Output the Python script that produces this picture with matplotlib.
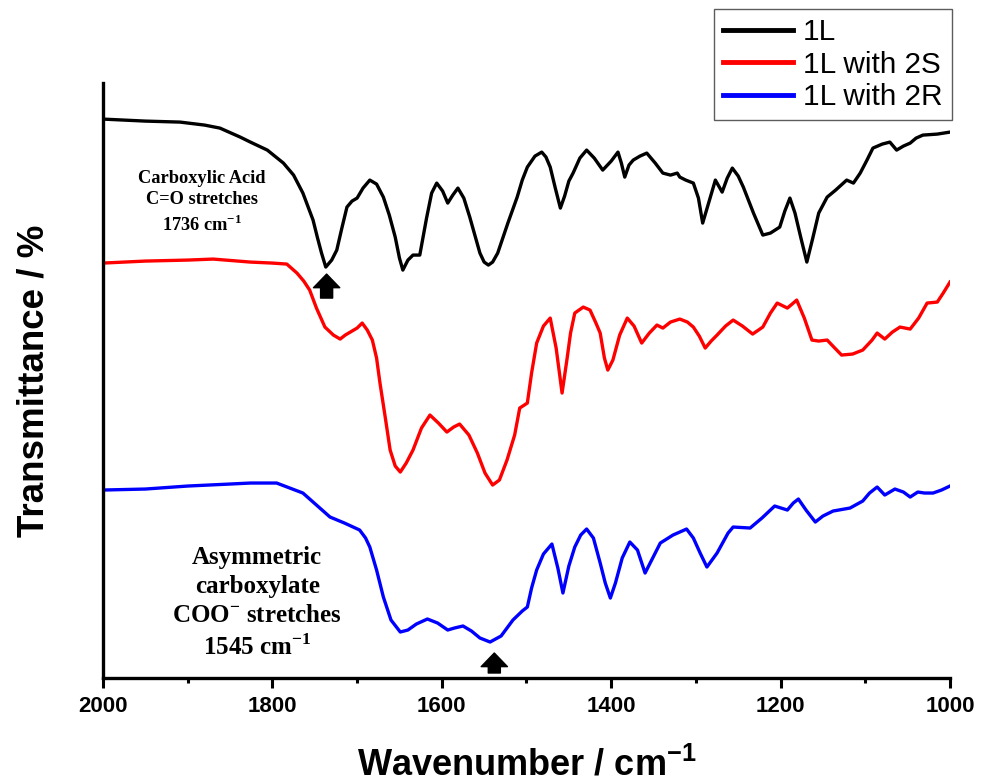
import numpy as np
import matplotlib
matplotlib.use('Agg')
import matplotlib.pyplot as plt

# wavenumber (cm-1) and transmittance (arbitrary units, stacked)
wn_1L = [2000, 1950, 1909, 1880, 1862, 1838, 1826, 1806, 1787, 1775, 1764, 1752, 1747, 1742,
         1737, 1730, 1724, 1718, 1712, 1706, 1700, 1693, 1685, 1677, 1669, 1662, 1655, 1650,
         1646, 1640, 1634, 1626, 1618, 1612, 1606, 1599, 1593, 1587, 1581, 1574, 1567, 1560,
         1555, 1550, 1545, 1540, 1534, 1522, 1511, 1505, 1499, 1490, 1482, 1477, 1472, 1466,
         1460, 1455, 1450, 1445, 1437, 1429, 1420, 1410, 1400, 1392, 1388, 1384, 1379, 1374,
         1366, 1358, 1348, 1339, 1330, 1322, 1319, 1312, 1303, 1297, 1292, 1285, 1277, 1269,
         1263, 1257, 1250, 1244, 1232, 1221, 1212, 1201, 1195, 1189, 1183, 1176, 1169, 1162,
         1155, 1145, 1135, 1122, 1114, 1106, 1098, 1091, 1080, 1071, 1063, 1055, 1047, 1040,
         1032, 1015, 1000]
t_1L = [559, 557, 556, 553, 550, 541, 536, 528, 515, 503, 485, 458, 441, 425,
        411, 418, 428, 450, 471, 477, 480, 490, 498, 494, 481, 463, 441, 420,
        408, 418, 423, 423, 460, 485, 495, 487, 475, 483, 490, 480, 461, 440,
        425, 416, 413, 416, 425, 455, 481, 498, 511, 522, 526, 521, 511, 490,
        470, 482, 497, 505, 520, 528, 520, 508, 517, 526, 515, 501, 513, 518,
        522, 525, 515, 505, 503, 505, 501, 498, 495, 480, 455, 475, 498, 486,
        500, 510, 502, 491, 465, 443, 445, 451, 467, 480, 465, 440, 416, 440,
        465, 481, 488, 498, 495, 505, 518, 530, 534, 536, 528, 532, 535, 540,
        543, 544, 546]

wn_2S = [2000, 1950, 1900, 1870, 1826, 1800, 1783, 1771, 1763, 1756, 1748, 1738, 1728, 1720,
         1714, 1708, 1700, 1694, 1688, 1682, 1677, 1673, 1667, 1661, 1655, 1649, 1642, 1634,
         1624, 1614, 1604, 1594, 1586, 1579, 1568, 1558, 1549, 1540, 1532, 1523, 1514, 1508,
         1499, 1494, 1488, 1480, 1472, 1465, 1458, 1452, 1448, 1443, 1433, 1425, 1418, 1413,
         1408, 1404, 1398, 1390, 1381, 1373, 1364, 1355, 1346, 1339, 1330, 1319, 1310, 1303,
         1296, 1289, 1282, 1275, 1265, 1256, 1245, 1233, 1221, 1212, 1204, 1192, 1185, 1181,
         1172, 1163, 1155, 1145, 1136, 1128, 1115, 1103, 1092, 1086, 1077, 1068, 1059, 1047,
         1037, 1027, 1015, 1008, 1000]
t_2S = [415, 417, 418, 419, 416, 415, 414, 405, 397, 388, 370, 351, 343, 339,
        343, 346, 350, 355, 348, 338, 320, 295, 262, 228, 212, 206, 215, 228,
        250, 263, 255, 246, 251, 254, 243, 225, 205, 193, 198, 218, 243, 270,
        275, 305, 335, 352, 360, 330, 285, 320, 345, 365, 371, 368, 355, 345,
        320, 308, 318, 343, 360, 352, 335, 345, 353, 350, 356, 359, 356, 351,
        342, 330, 337, 343, 352, 358, 352, 344, 351, 365, 375, 370, 375, 378,
        360, 338, 337, 338, 330, 323, 324, 328, 338, 345, 339, 346, 351, 349,
        360, 375, 376, 385, 396]

wn_2R = [2000, 1950, 1900, 1850, 1826, 1795, 1764, 1748, 1732, 1715, 1697, 1690, 1685, 1677,
         1669, 1660, 1649, 1640, 1630, 1617, 1605, 1593, 1585, 1575, 1565, 1555, 1543, 1530,
         1516, 1505, 1499, 1494, 1488, 1480, 1470, 1463, 1457, 1450, 1443, 1436, 1429, 1421,
         1413, 1407, 1401, 1395, 1387, 1378, 1369, 1360, 1351, 1342, 1327, 1311, 1303, 1295,
         1287, 1275, 1262, 1256, 1236, 1222, 1207, 1192, 1185, 1179, 1170, 1159, 1150, 1138,
         1118, 1103, 1095, 1086, 1077, 1065, 1055, 1047, 1038, 1030, 1020, 1010, 1000]
t_2R = [188, 189, 192, 194, 195, 195, 185, 173, 161, 155, 148, 140, 131, 108,
        81, 58, 46, 48, 54, 59, 55, 48, 50, 52, 47, 40, 36, 42,
        58, 67, 71, 90, 108, 124, 134, 110, 85, 112, 131, 143, 149, 140,
        115, 95, 80, 95, 120, 136, 128, 105, 120, 135, 143, 149, 140, 125,
        111, 125, 145, 151, 150, 160, 172, 168, 175, 179, 168, 156, 162, 167,
        170, 177, 185, 191, 183, 189, 186, 181, 186, 185, 185, 188, 192]

plt.rcParams['font.family'] = ['Liberation Sans', 'DejaVu Sans']
plt.rcParams['mathtext.fontset'] = 'custom'
plt.rcParams['mathtext.rm'] = 'Liberation Sans'
plt.rcParams['mathtext.bf'] = 'Liberation Sans:bold'

fig = plt.figure(figsize=(9.82, 7.84), dpi=100)
ax = fig.add_axes([0.1049, 0.1352, 0.8625, 0.7588])

ax.plot(wn_1L, t_1L, color='black', lw=2.4, label='1L')
ax.plot(wn_2S, t_2S, color='#ff0000', lw=2.4, label='1L with 2S')
ax.plot(wn_2R, t_2R, color='#0000ff', lw=2.4, label='1L with 2R')

ax.set_xlim(2000, 1000)
ax.set_ylim(0, 595)
ax.set_xticks(np.arange(2000, 999, -200))
ax.set_xticks(np.arange(1900, 1000, -200), minor=True)
ax.set_yticks([])

for s in ['top', 'right']:
    ax.spines[s].set_visible(False)
for s in ['left', 'bottom']:
    ax.spines[s].set_linewidth(2.4)

ax.tick_params(axis='x', which='major', direction='out', length=7, width=2.2,
               labelsize=16, pad=6)
ax.tick_params(axis='x', which='minor', direction='out', length=3.5, width=2.2)
for lab in ax.get_xticklabels():
    lab.set_fontweight('bold')

ax.set_xlabel(r'Wavenumber / cm$^{\mathbf{-1}}$', fontsize=26, fontweight='bold', labelpad=22)
ax.set_ylabel('Transmittance / %', fontsize=26.5, fontweight='bold', labelpad=37)

# annotations
ax.text(1883, 476, 'Carboxylic Acid\nC=O stretches\n1736 cm$^{\\mathregular{-1}}$',
        ha='center', va='center', fontsize=13.2, fontweight='bold',
        family='Liberation Serif', linespacing=1.38)
ax.text(1818, 75, 'Asymmetric\ncarboxylate\nCOO$^{\\mathregular{-}}$ stretches\n1545 cm$^{\\mathregular{-1}}$',
        ha='center', va='center', fontsize=18, fontweight='bold',
        family='Liberation Serif', linespacing=1.33)

arrow_style = 'simple,head_length=0.7,head_width=1.35,tail_width=0.62'
ax.annotate('', xy=(1736, 404), xytext=(1736, 380),
            arrowprops=dict(arrowstyle=arrow_style, color='black', mutation_scale=14,
                            shrinkA=0, shrinkB=0))
ax.annotate('', xy=(1538, 25), xytext=(1538, 5),
            arrowprops=dict(arrowstyle=arrow_style, color='black', mutation_scale=14,
                            shrinkA=0, shrinkB=0))

leg = ax.legend(loc='upper right', bbox_to_anchor=(0.969, 0.988),
                bbox_transform=fig.transFigure, fontsize=21.4, frameon=True,
                fancybox=False, handlelength=2.35, handletextpad=0.35,
                labelspacing=0.15, borderpad=0.3, borderaxespad=0)
leg.get_frame().set_edgecolor('#333333')
leg.get_frame().set_linewidth(1.0)
for line in leg.get_lines():
    line.set_linewidth(3.5)

fig.savefig('out.png', dpi=100)
